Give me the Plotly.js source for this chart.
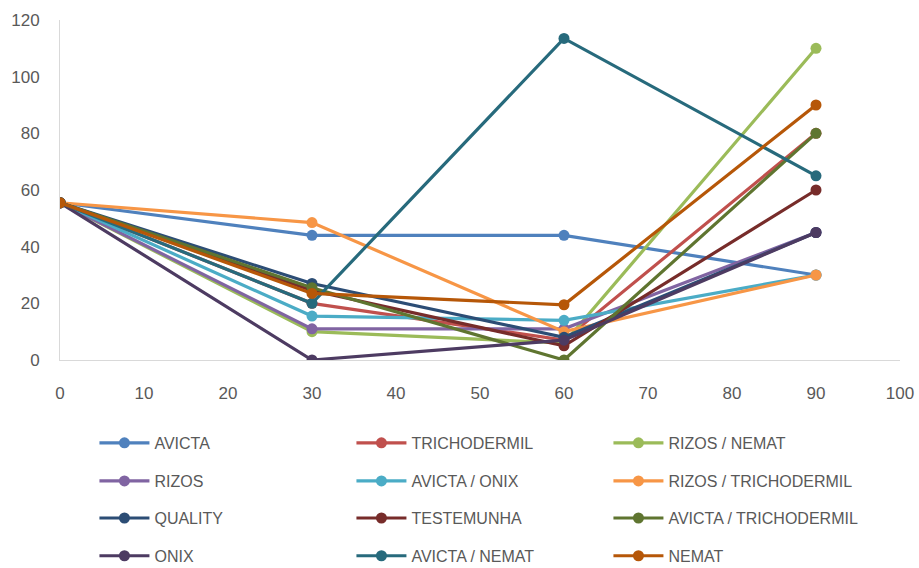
<!DOCTYPE html>
<html>
<head>
<meta charset="utf-8">
<script src="https://cdn.plot.ly/plotly-3.0.1.min.js"></script>
<style>html,body{margin:0;padding:0;background:#fff;}#chart{width:919px;height:568px;}</style>
</head>
<body>
<div id="chart"></div>
<script>
const days = [0, 30, 60, 90];
const seriesNames = ["AVICTA", "TRICHODERMIL", "RIZOS / NEMAT", "RIZOS", "AVICTA / ONIX", "RIZOS / TRICHODERMIL", "QUALITY", "TESTEMUNHA", "AVICTA / TRICHODERMIL", "ONIX", "AVICTA / NEMAT", "NEMAT"];
const avicta = [55.5, 44, 44, 30];
const trichodermil = [55.5, 20, 7, 80];
const rizosNemat = [55.5, 10, 6, 110];
const rizos = [55.5, 11, 11, 45];
const avictaOnix = [55.5, 15.5, 14, 30];
const rizosTrichodermil = [55.5, 48.5, 10, 30];
const quality = [55.5, 27, 8, 45];
const testemunha = [55.5, 24.5, 5, 60];
const avictaTrichodermil = [55.5, 25.5, 0, 80];
const onix = [55.5, 0, 7, 45];
const avictaNemat = [55.5, 20, 113.5, 65];
const nemat = [55.5, 23.5, 19.5, 90];
const seriesValues = [avicta, trichodermil, rizosNemat, rizos, avictaOnix, rizosTrichodermil, quality, testemunha, avictaTrichodermil, onix, avictaNemat, nemat];
const colors = ["#4F81BD", "#C0504D", "#9BBB59", "#8064A2", "#4BACC6", "#F79646", "#2C4D75", "#772C2A", "#5F7530", "#4D3B62", "#276A7C", "#B65708"];

const FONT = "'Liberation Sans', Arial, sans-serif";
const legendNames = ["legend", "legend2", "legend3", "legend4"];
const legendRowY = [-0.244, -0.356, -0.465, -0.576];

const traces = seriesNames.map((name, i) => ({
  type: "scatter",
  mode: "lines+markers",
  name: name,
  x: days,
  y: seriesValues[i],
  line: {color: colors[i], width: 3.2},
  marker: {color: colors[i], size: 11},
  legend: legendNames[Math.floor(i / 3)]
}));

const legendBase = (row) => ({
  orientation: "h",
  x: 0.041,
  xanchor: "left",
  y: legendRowY[row],
  yanchor: "middle",
  entrywidth: 192,
  entrywidthmode: "pixels",
  itemwidth: 50,
  font: {family: FONT, size: 16, color: "#595959"},
  bgcolor: "rgba(0,0,0,0)",
  traceorder: "normal"
});

const layout = {
  width: 919,
  height: 568,
  margin: {l: 60, r: 19, t: 20, b: 208, autoexpand: false},
  paper_bgcolor: "#ffffff",
  plot_bgcolor: "#ffffff",
  showlegend: true,
  xaxis: {
    range: [0, 100],
    tick0: 0, dtick: 10,
    showgrid: false,
    zeroline: false,
    showline: true,
    linecolor: "#D9D9D9",
    linewidth: 1,
    ticks: "",
    ticklabelstandoff: 18,
    tickfont: {family: FONT, size: 17, color: "#595959"}
  },
  yaxis: {
    range: [0, 120],
    tick0: 0, dtick: 20,
    showgrid: false,
    zeroline: false,
    showline: true,
    linecolor: "#D9D9D9",
    linewidth: 1,
    ticks: "",
    ticklabelstandoff: 16,
    tickfont: {family: FONT, size: 17, color: "#595959"}
  },
  legend: legendBase(0),
  legend2: legendBase(1),
  legend3: legendBase(2),
  legend4: legendBase(3)
};

Plotly.newPlot("chart", traces, layout, {displayModeBar: false, staticPlot: true});
</script>
</body>
</html>
